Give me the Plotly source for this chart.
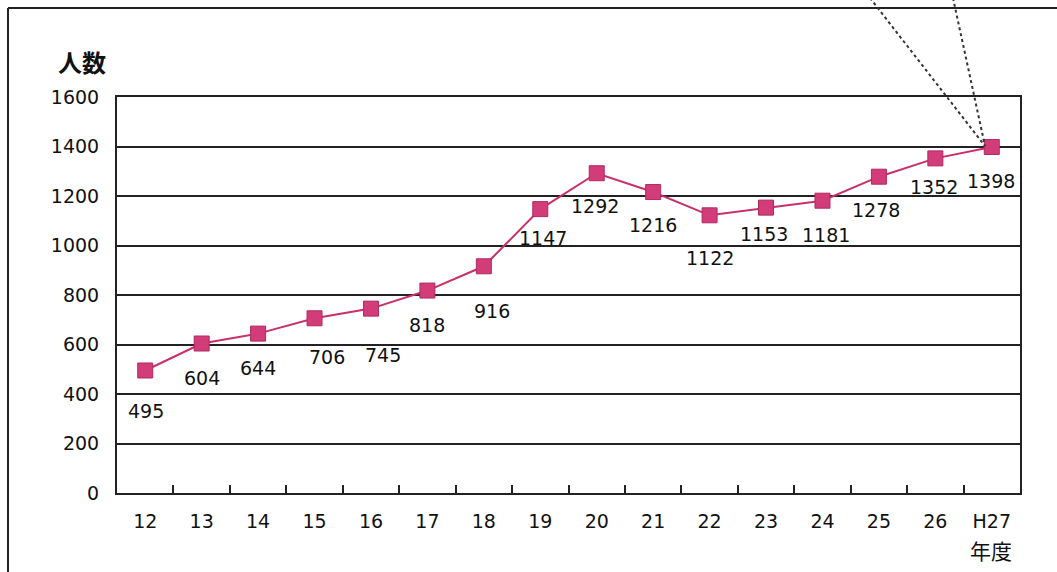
import plotly.graph_objects as go

years = ["12", "13", "14", "15", "16", "17", "18", "19", "20", "21", "22", "23", "24", "25", "26", "H27"]
counts = [495, 604, 644, 706, 745, 818, 916, 1147, 1292, 1216, 1122, 1153, 1181, 1278, 1352, 1398]
# label placement (pixel offsets below / beside each point)
label_dy = [41, 34, 34, 39, 46, 34, 45, 29, 33, 33, 43, 26, 34, 33, 29, 34]
label_dx = [1, 0, 0, 12, 12, 0, 8, 3, -2, 0, 0, -2, 4, -3, -1, -1]
yticks = [0, 200, 400, 600, 800, 1000, 1200, 1400, 1600]

W, H = 1057, 572
L, R, T, B = 117, 1020, 97, 493

def px(x):
    return (x - L) / (R - L)

def py(y):
    return (B - y) / (B - T)

FONT = "DejaVu Sans, Noto Sans CJK JP"
LINE = "#c8306a"
MARK = "#d23c79"

idx = list(range(len(years)))

fig = go.Figure()
fig.add_trace(go.Scatter(
    x=idx, y=counts, mode="lines+markers",
    line=dict(color=LINE, width=2),
    marker=dict(symbol="square", size=15, color=MARK, line=dict(color="#b02a62", width=1)),
    cliponaxis=False, hoverinfo="skip",
))

for i, y, dy, dx in zip(idx, counts, label_dy, label_dx):
    fig.add_annotation(x=i, y=y, text=str(y), showarrow=False, yshift=-dy, xshift=dx,
                       xanchor="center", yanchor="middle",
                       font=dict(family=FONT, size=19, color="#111111"))

fig.add_annotation(xref="paper", yref="paper", x=px(82), y=py(62), text="<b>人数</b>",
                   xanchor="center", yanchor="middle",
                   showarrow=False, font=dict(family="Noto Sans CJK JP", size=24, color="#111111"))
fig.add_annotation(xref="paper", yref="paper", x=px(991), y=py(550), text="年度",
                   xanchor="center", yanchor="middle",
                   showarrow=False, font=dict(family="Noto Sans CJK JP", size=21, color="#111111"))

# outer frame (left & top)
fig.add_shape(type="line", xref="paper", yref="paper", x0=px(8), y0=py(8), x1=px(8), y1=py(575),
              line=dict(color="#222222", width=2))
fig.add_shape(type="line", xref="paper", yref="paper", x0=px(8), y0=py(8), x1=px(1060), y1=py(8),
              line=dict(color="#222222", width=2))
# dotted callout lines
for sx in (870, 953):
    fig.add_shape(type="line", xref="paper", yref="paper", x0=px(sx), y0=py(-2), x1=px(985), y1=py(146),
                  line=dict(color="#333333", width=2, dash="dot"))

fig.update_layout(
    width=W, height=H,
    margin=dict(l=L, r=W - R, t=T, b=H - B),
    paper_bgcolor="white", plot_bgcolor="white",
    showlegend=False,
    font=dict(family=FONT, size=19, color="#111111"),
    xaxis=dict(range=[-0.5, len(years) - 0.5], tickvals=idx, ticktext=years, tickangle=0,
               showgrid=False, showline=True, linecolor="#222222", linewidth=2,
               mirror=True, ticks="", zeroline=False,
               tickfont=dict(family=FONT, size=19, color="#111111"),
               ticklabelstandoff=10,
               minor=dict(tickvals=[i + 0.5 for i in idx[:-1]], ticks="inside", ticklen=8,
                          tickwidth=2, tickcolor="#222222", showgrid=False)),
    yaxis=dict(range=[0, 1600], tickvals=yticks, showgrid=True, gridcolor="#222222", gridwidth=2,
               showline=True, linecolor="#222222", linewidth=2, mirror=True, zeroline=False,
               ticks="", tickfont=dict(family=FONT, size=19, color="#111111"),
               ticklabelstandoff=12),
)

fig.write_html("out.html")
